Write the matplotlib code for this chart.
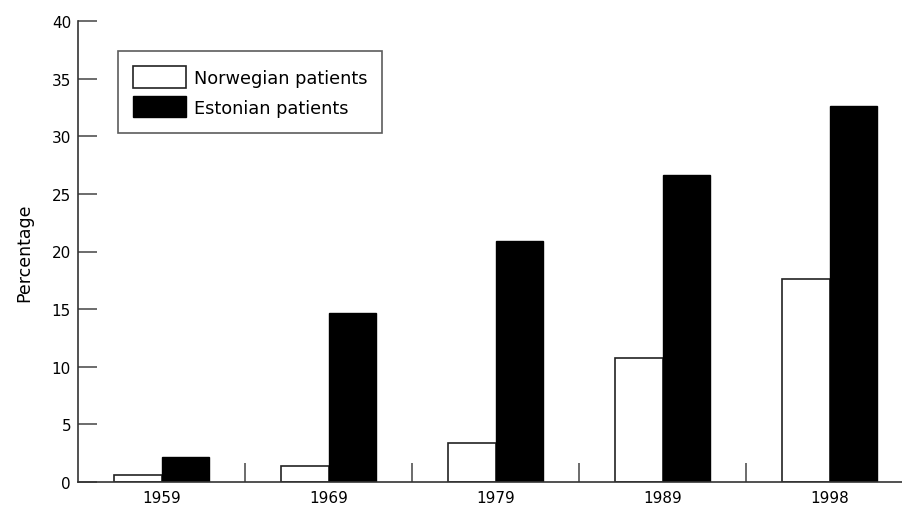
import matplotlib
matplotlib.use("Agg")
import matplotlib.pyplot as plt
import numpy as np

years = ["1959", "1969", "1979", "1989", "1998"]
norwegian = [0.6, 1.4, 3.4, 10.8, 17.6]
estonian = [2.2, 14.7, 20.9, 26.6, 32.6]
yticks = [0, 5, 10, 15, 20, 25, 30, 35, 40]

plt.rcParams['font.family'] = ['DejaVu Sans']

fig = plt.figure(figsize=(9.03, 5.06), dpi=100)
ax = fig.add_axes([78/903, 23/506, 1 - 78/903, 461/506])

x = np.arange(len(years))
w = 0.287
edge = '#222222'
ax.bar(x - w/2, norwegian, w, color='white', edgecolor=edge, linewidth=1.2,
       label='Norwegian patients')
ax.bar(x + w/2, estonian, w, color='black', edgecolor='black', linewidth=1.0,
       label='Estonian patients')

ax.set_xlim(-0.5, 4.44)
ax.set_ylim(0, 40)
ax.set_yticks(yticks)
ax.set_yticklabels([str(v) for v in yticks], fontsize=11)
ax.set_xticks(x)
ax.set_xticklabels(years, fontsize=11)
ax.tick_params(axis='x', length=0, pad=6)
ax.tick_params(axis='y', direction='in', length=14, width=1.1, color='#444444', pad=5)
ax.set_xticks(np.arange(0.5, len(years) - 1, 1.0), minor=True)
ax.tick_params(axis='x', which='minor', direction='in', length=14, width=1.1, color='#444444')

for s in ['top', 'right']:
    ax.spines[s].set_visible(False)
for s in ['left', 'bottom']:
    ax.spines[s].set_color('#333333')
    ax.spines[s].set_linewidth(1.2)

ax.set_ylabel('Percentage', fontsize=12.5, labelpad=13)

leg = ax.legend(loc='upper left', bbox_to_anchor=(118/903, 1 - 52/506),
                bbox_transform=fig.transFigure, frameon=True, fancybox=False,
                edgecolor='#333333', fontsize=12.8, handlelength=2.95,
                handleheight=1.5, borderpad=0.85, labelspacing=0.45,
                handletextpad=0.45, borderaxespad=0)
leg.get_frame().set_linewidth(1.2)

fig.savefig('out.png', dpi=100)
